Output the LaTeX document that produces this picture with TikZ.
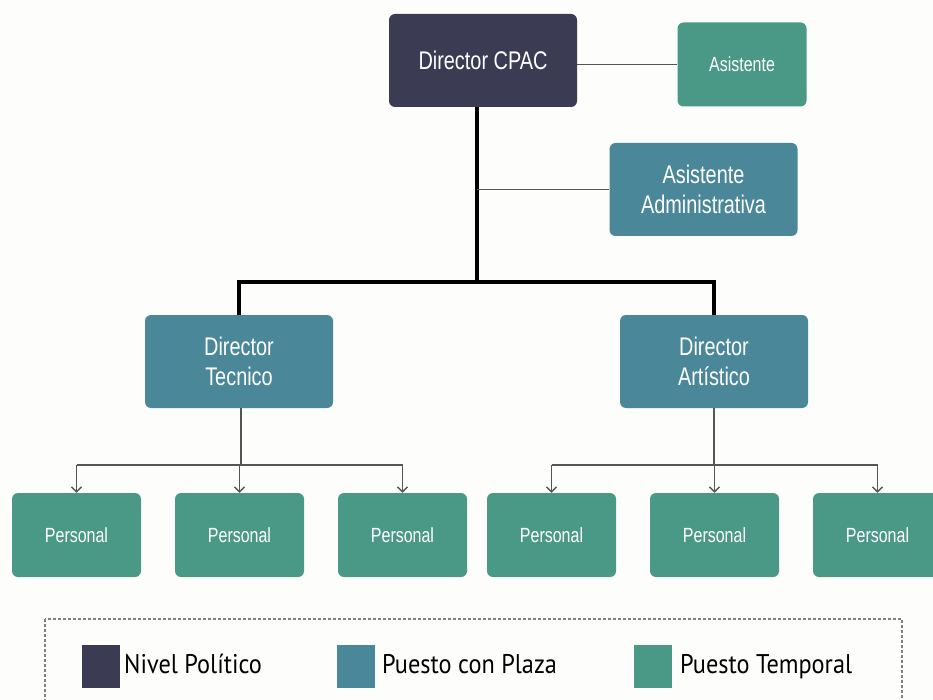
\documentclass[tikz,border=0pt]{standalone}
\usepackage{fontspec}
\setmainfont{Liberation Sans}
\newfontfamily\boxfont[FakeStretch=0.78]{Liberation Sans}
\newfontfamily\keyfont[FakeStretch=0.9]{PT Sans}
\usetikzlibrary{arrows.meta}
\definecolor{politico}{HTML}{3C3B54}
\definecolor{plaza}{HTML}{4A8799}
\definecolor{temporal}{HTML}{4A9986}
\definecolor{paper}{HTML}{FDFDFB}
\definecolor{wirecol}{HTML}{555555}
\tikzset{
  orgbox/.style={rounded corners=6pt, inner sep=0pt, align=center,
    text=white, font=\boxfont\fontsize{25.5}{30}\selectfont},
  bigbox/.style={orgbox, minimum width=188pt, minimum height=93pt},
  smallbox/.style={orgbox, minimum width=129pt, minimum height=84pt,
    font=\boxfont\fontsize{20.5}{24}\selectfont},
  trunk/.style={line width=4pt, black},
  wire/.style={line width=1.3pt, draw=wirecol},
  feed/.style={wire, -{Straight Barb[length=5pt,width=10pt,line width=1.3pt]}},
  swatch/.style={minimum width=38pt, minimum height=43pt, inner sep=0pt},
  keytext/.style={anchor=base west, inner sep=0pt, font=\keyfont\fontsize{27}{30}\selectfont, text=black}
}
\begin{document}
\begin{tikzpicture}[x=1pt, y=-1pt]
\fill[paper] (0,0) rectangle (933,700);
\useasboundingbox (0,0) rectangle (933,700);

% top level
\node[bigbox, fill=politico] (cpac) at (483,60.5) {Director CPAC};
\node[smallbox, fill=temporal] (asis) at (742,64.5) {Asistente};
\node[bigbox, fill=plaza] (admin) at (703.5,189.5) {Asistente\\Administrativa};

% directors
\node[bigbox, fill=plaza] (tec) at (239,361.5) {Director\\Tecnico};
\node[bigbox, fill=plaza] (art) at (714,361.5) {Director\\Artístico};

% staff
\foreach \n/\x in {p1/76.5, p2/239.5, p3/402.5, p4/551.5, p5/714.5, p6/877.5}
  \node[smallbox, fill=temporal] (\n) at (\x,535) {Personal};

% main trunk
\coordinate (hub) at (477,282);
\draw[trunk] (cpac.south -| hub) -- (hub);
\draw[trunk, line join=miter] (tec.north) -- (tec.north |- hub) -- (art.north |- hub) -- (art.north);

% side links
\draw[wire] (asis.west -| cpac.east) -- (asis.west);
\draw[wire] (admin.west -| hub) -- (admin.west);

% staff links
\coordinate (b1) at (241,465);
\coordinate (b2) at (714,465);
\draw[wire] (tec.south -| b1) -- (b1);
\draw[wire] (p1.north |- b1) -- (p3.north |- b1);
\foreach \n in {p1,p2,p3} \draw[feed] (\n.north |- b1) -- (\n.north);
\draw[wire] (art.south -| b2) -- (b2);
\draw[wire] (p4.north |- b2) -- (p6.north |- b2);
\foreach \n in {p4,p5,p6} \draw[feed] (\n.north |- b2) -- (\n.north);

% legend
\draw[line width=1.2pt, gray, dash pattern=on 3pt off 2pt] (45,619) rectangle (902,710);
\node[swatch, fill=politico] (k1) at (101,666) {};
\node[keytext] (t1) at (124,673) {Nivel Político};
\node[swatch, fill=plaza] (k2) at (355.5,666) {};
\node[keytext] (t2) at (382,673) {Puesto con Plaza};
\node[swatch, fill=temporal] (k3) at (653,666) {};
\node[keytext] (t3) at (680,673) {Puesto Temporal};
\end{tikzpicture}
\end{document}
